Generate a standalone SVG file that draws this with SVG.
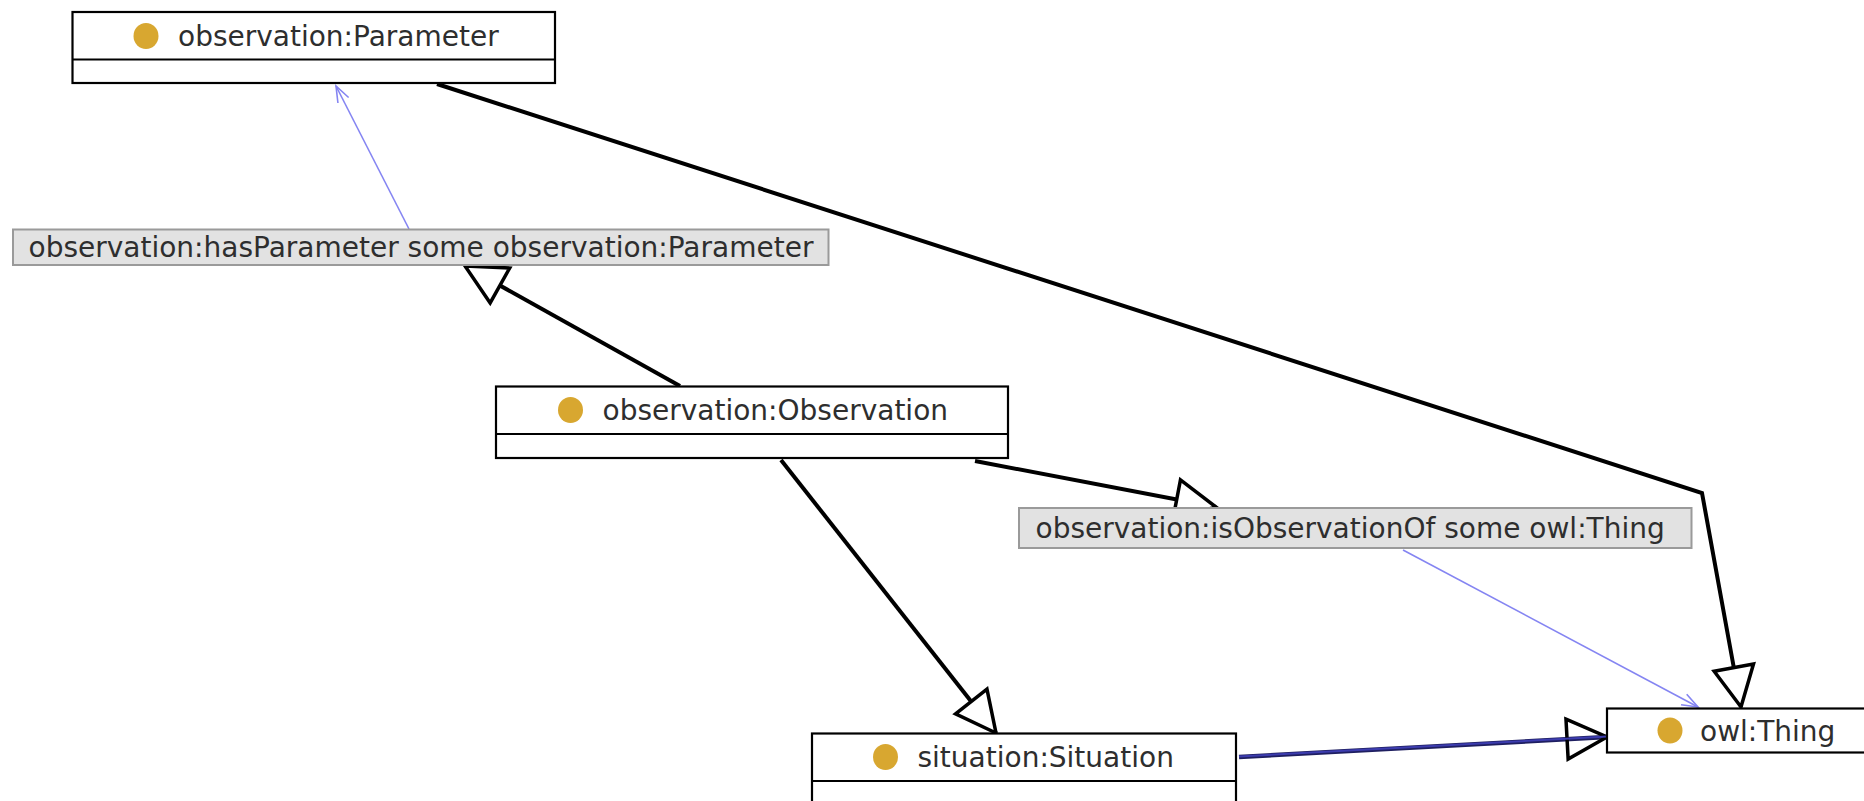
<svg xmlns="http://www.w3.org/2000/svg" width="1864" height="801" viewBox="0 0 1864 801">
  <style>
    .cls { fill: #ffffff; stroke: #000000; stroke-width: 2.2; }
    .div { stroke: #000000; stroke-width: 2.2; }
    .rst { fill: #e2e2e2; stroke: #9a9a9a; stroke-width: 2; }
    .dot { fill: #d8a730; }
    .lbl { font-family: "DejaVu Sans", "Liberation Sans", sans-serif; font-size: 28px; fill: #2e2e2e; }
    .sub { fill: none; stroke: #000000; stroke-width: 4; }
    .prop { fill: none; stroke: #8585f2; stroke-width: 1.6; }
  </style>
  <defs>
    <marker id="tri" markerUnits="userSpaceOnUse" viewBox="0 0 44 44" markerWidth="44" markerHeight="44" refX="42" refY="22" orient="auto" overflow="visible">
      <path d="M2,2 L42,22 L2,42 Z" fill="#ffffff" stroke="#000000" stroke-width="3.5" stroke-linejoin="miter"/>
    </marker>
    <marker id="triopen" markerUnits="userSpaceOnUse" viewBox="0 0 44 44" markerWidth="44" markerHeight="44" refX="42" refY="22" orient="auto" overflow="visible">
      <path d="M2,2 L42,22 L2,42 Z" fill="none" stroke="#000000" stroke-width="3.5"/>
    </marker>
    <marker id="vee" markerUnits="userSpaceOnUse" viewBox="0 0 18 14" markerWidth="18" markerHeight="14" refX="17" refY="7" orient="auto" overflow="visible">
      <path d="M1,1 L17,7 L1,13" fill="none" stroke="#8585f2" stroke-width="1.6"/>
    </marker>
  </defs>
  <rect x="0" y="0" width="1864" height="801" fill="#ffffff"/>

  <g id="connectors">
    <path class="prop" d="M409,229 L336,86" marker-end="url(#vee)"/>
    <path class="sub" d="M437,84 L1702,493 L1741,707" marker-end="url(#tri)"/>
    <path class="sub" d="M680,386 L465,266" marker-end="url(#tri)"/>
    <path class="sub" d="M975,461 L1216,507" marker-end="url(#tri)"/>
    <path class="sub" d="M781,460 L996,733" marker-end="url(#tri)"/>
    <path d="M1239,757 L1607,737" fill="none" stroke="#1f1f60" stroke-width="4.5" marker-end="url(#triopen)"/>
    <path d="M1239,756.5 L1607,736.5" fill="none" stroke="#3c3cae" stroke-width="2"/>
    <path class="prop" d="M1403,550 L1698,707" marker-end="url(#vee)"/>
  </g>

  <g id="node-parameter">
    <rect class="cls" x="72.5" y="12" width="482.5" height="71"/>
    <line class="div" x1="72.5" y1="59.5" x2="555" y2="59.5"/>
    <ellipse class="dot" cx="146" cy="36" rx="12.5" ry="13"/>
    <text class="lbl" x="178" y="45.5">observation:Parameter</text>
  </g>

  <g id="node-hasParameter">
    <rect class="rst" x="13" y="229.5" width="815.5" height="35.5"/>
    <text class="lbl" x="28.5" y="256.5">observation:hasParameter some observation:Parameter</text>
  </g>

  <g id="node-observation">
    <rect class="cls" x="496" y="386.5" width="512" height="71.5"/>
    <line class="div" x1="496" y1="434" x2="1008" y2="434"/>
    <ellipse class="dot" cx="570.5" cy="410" rx="12.5" ry="13"/>
    <text class="lbl" x="602.5" y="420">observation:Observation</text>
  </g>

  <g id="node-isObservationOf">
    <rect class="rst" x="1019" y="508" width="672.5" height="40"/>
    <text class="lbl" x="1035.5" y="538">observation:isObservationOf some owl:Thing</text>
  </g>

  <g id="node-situation">
    <rect class="cls" x="812" y="733.5" width="424" height="90"/>
    <line class="div" x1="812" y1="781" x2="1236" y2="781"/>
    <ellipse class="dot" cx="885.5" cy="757" rx="12.5" ry="13"/>
    <text class="lbl" x="917.5" y="767">situation:Situation</text>
  </g>

  <g id="node-thing">
    <rect class="cls" x="1607" y="708.5" width="270" height="44"/>
    <ellipse class="dot" cx="1670" cy="730.5" rx="12.5" ry="13"/>
    <text class="lbl" x="1700" y="740.5">owl:Thing</text>
  </g>
</svg>
